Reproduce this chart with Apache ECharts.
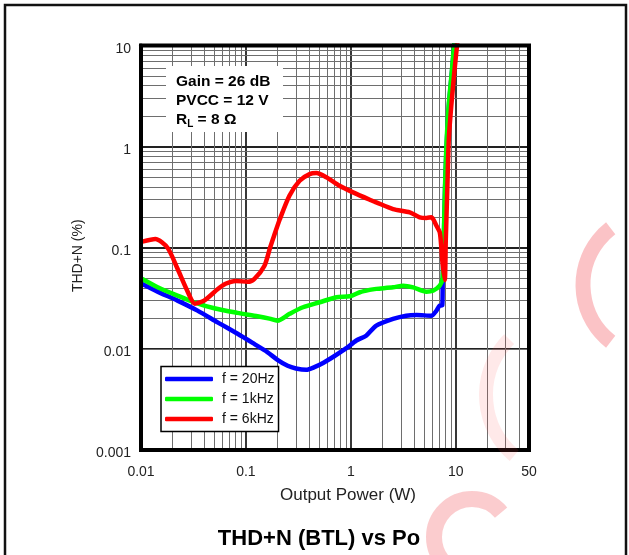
<!DOCTYPE html>
<html>
<head>
<meta charset="utf-8">
<script src="https://cdn.jsdelivr.net/npm/echarts@6/dist/echarts.min.js"></script>
<style>
html,body{margin:0;padding:0;background:#fff;}
#chart{width:629px;height:555px;}
</style>
</head>
<body>
<div id="chart"></div>
<script>
// ---- data ----
const seriesNames = ['f = 20Hz', 'f = 1kHz', 'f = 6kHz'];
const seriesColors = ['#0000FF', '#00FF00', '#FF0000'];

const thd20Hz = [
  [0.0103,0.0438],[0.0144,0.0368],[0.0223,0.030],[0.0346,0.0239],[0.0537,0.0183],
  [0.0834,0.0141],[0.12,0.0112],[0.16,0.0093],[0.2,0.0078],[0.25,0.0068],
  [0.3,0.0064],[0.376,0.0062],[0.45,0.0066],[0.55,0.0073],[0.7,0.0085],
  [0.9,0.0101],[1.13,0.0121],[1.4,0.0135],[1.75,0.017],[2.53,0.0198],
  [3.38,0.0213],[4.24,0.0216],[5.87,0.0213],[6.56,0.0239],[7.05,0.0268],
  [7.45,0.027],[7.52,0.045],[7.62,0.08],[7.76,0.16],[7.93,0.4],[8.19,1.0],
  [8.62,2.57],[9.2,5.4],[9.7,10.5]
];
const thd1kHz = [
  [0.0103,0.049],[0.0144,0.0407],[0.0223,0.0336],[0.0322,0.0289],[0.05,0.0252],
  [0.083,0.0227],[0.129,0.021],[0.168,0.0199],[0.2,0.019],[0.261,0.0222],
  [0.35,0.0258],[0.505,0.0289],[0.73,0.0324],[0.98,0.0331],[1.22,0.0363],
  [1.51,0.0383],[1.75,0.0392],[2.53,0.0406],[3.15,0.0422],[3.93,0.0406],
  [5.26,0.0368],[6.08,0.0376],[7.05,0.0422],[7.48,0.049],[7.6,0.077],
  [7.73,0.15],[7.9,0.38],[8.15,1.0],[8.58,2.57],[9.17,5.4],[9.68,10.5]
];
const thd6kHz = [
  [0.0103,0.115],[0.0137,0.122],[0.0179,0.10],[0.0223,0.062],[0.0278,0.037],
  [0.0326,0.028],[0.040,0.030],[0.054,0.039],[0.064,0.044],[0.080,0.047],
  [0.104,0.046],[0.12,0.049],[0.15,0.066],[0.17,0.10],[0.185,0.13],
  [0.21,0.19],[0.26,0.327],[0.325,0.46],[0.405,0.535],[0.47,0.547],
  [0.585,0.497],[0.78,0.41],[1.05,0.353],[1.5,0.30],[1.75,0.281],
  [2.53,0.241],[3.65,0.224],[4.54,0.20],[5.26,0.197],[5.87,0.2],
  [6.56,0.165],[7.05,0.142],[7.3,0.10],[7.5,0.07],[7.87,0.048],
  [8.05,0.12],[8.32,0.38],[8.6,1.19],[9.08,2.53],[9.7,5.4],[10.35,10.5]
];
const xMin = 0.01, xMax = 50;
const yMin = 0.001, yMax = 10;
const xDecades = [0.01, 0.1, 1, 10];
const yDecades = [0.001, 0.01, 0.1, 1];
const minorSteps = [2,3,4,5,6,7,8,9];
const annotationLines = ['Gain = 26 dB', 'PVCC = 12 V'];

// ---- build ----
const xMinor = [];
xDecades.forEach(d => minorSteps.forEach(m => { const v = d*m; if (v < xMax) xMinor.push(v); }));
const yMinor = [];
yDecades.forEach(d => minorSteps.forEach(m => { const v = d*m; if (v < yMax) yMinor.push(v); }));

const FONT = 'Liberation Sans, Arial, sans-serif';
const fmt = v => String(parseFloat(Number(v).toPrecision(2)));
const deg = a => a * Math.PI / 180;

const G = {left:141, top:45.5, width:388, height:404.5};

const chart = echarts.init(document.getElementById('chart'), null, {renderer:'canvas'});
const dataSets = [thd20Hz, thd1kHz, thd6kHz];

const series = [{
  type:'line', name:'grid', data:[], silent:true, z:1,
  showSymbol:false, lineStyle:{opacity:0},
  markLine:{
    z:1, silent:true, symbol:['none','none'], animation:false,
    label:{show:false},
    lineStyle:{color:'#6e6e6e', width:1, type:'solid'},
    emphasis:{disabled:true},
    data:[...xMinor.map(v=>({xAxis:v})), ...yMinor.map(v=>({yAxis:v}))]
  }
}];
dataSets.forEach((d,i)=>{
  series.push({
    type:'line', name:seriesNames[i], data:d, z:3+i,
    showSymbol:false, smooth:0.25, clip:true,
    color:seriesColors[i],
    lineStyle:{color:seriesColors[i], width:4.5, cap:'round', join:'round'},
    animation:false
  });
});

chart.setOption({
  animation:false,
  textStyle:{fontFamily:FONT},
  title:{
    text:'THD+N (BTL) vs Po', left:314, textAlign:'center', top:523,
    textStyle:{fontSize:22, fontWeight:'bold', color:'#000', fontFamily:FONT}
  },
  grid:{left:G.left, top:G.top, width:G.width, height:G.height, containLabel:false},
  xAxis:{
    type:'log', logBase:10, min:xMin, max:xMax,
    name:'Output Power (W)', nameLocation:'middle', nameGap:37,
    nameTextStyle:{fontSize:17, color:'#222', fontFamily:FONT, padding:[0,0,0,26]},
    axisLine:{show:true, lineStyle:{color:'#000', width:4}},
    axisTick:{show:false},
    axisLabel:{fontSize:14, color:'#222', margin:15, formatter:fmt, showMinLabel:true, showMaxLabel:true},
    splitLine:{show:true, lineStyle:{color:'#222', width:1.8}},
    minorTick:{show:false}, minorSplitLine:{show:false}
  },
  yAxis:{
    type:'log', logBase:10, min:yMin, max:yMax,
    name:'THD+N (%)', nameLocation:'middle', nameGap:49,
    nameTextStyle:{fontSize:14, color:'#222', fontFamily:FONT, padding:[0,16,0,0]},
    axisLine:{show:true, lineStyle:{color:'#000', width:4}},
    axisTick:{show:false},
    axisLabel:{fontSize:14, color:'#222', margin:10, formatter:fmt, showMinLabel:true, showMaxLabel:true,
               verticalAlign:'top', lineHeight:7},
    splitLine:{show:true, lineStyle:{color:'#222', width:1.8}},
    minorTick:{show:false}, minorSplitLine:{show:false}
  },
  legend:{
    data:seriesNames, orient:'vertical', left:161, top:366.5, z:60,
    backgroundColor:'#fff', borderColor:'#000', borderWidth:1.5, borderRadius:0,
    padding:[5,4,5,4], itemGap:5, itemWidth:48, itemHeight:4.5,
    icon:'roundRect', selectedMode:false,
    textStyle:{fontSize:14, color:'#111', padding:[0,0,0,4], lineHeight:15, fontFamily:FONT}
  },
  graphic:[
    {type:'rect', z:100, silent:true,
     shape:{x:G.left, y:G.top, width:G.width, height:G.height},
     style:{fill:null, stroke:'#000', lineWidth:4}},
    {type:'rect', z:50, silent:true, shape:{x:166, y:66, width:117, height:66}, style:{fill:'#fff'}},
    {type:'text', z:51, silent:true, style:{x:176, y:82, text:annotationLines[0], fontSize:15.5, fontWeight:'bold', fill:'#000', fontFamily:FONT, verticalAlign:'middle'}},
    {type:'text', z:51, silent:true, style:{x:176, y:101, text:annotationLines[1], fontSize:15.5, fontWeight:'bold', fill:'#000', fontFamily:FONT, verticalAlign:'middle'}},
    {type:'text', z:51, silent:true, style:{x:176, y:120, text:'{a|R}{s|L}{a| = 8 Ω}', verticalAlign:'middle',
      rich:{a:{fontSize:15.5, fontWeight:'bold', fill:'#000', fontFamily:FONT, lineHeight:18},
            s:{fontSize:10, fontWeight:'bold', fill:'#000', fontFamily:FONT, lineHeight:10, verticalAlign:'bottom'}}}},
    {type:'rect', z:0, silent:true, shape:{x:5, y:5, width:621, height:560}, style:{fill:null, stroke:'#111', lineWidth:2.5}},
    // faint watermark arcs
    {type:'arc', z:120, silent:true, shape:{cx:565, cy:395, r:79, startAngle:deg(130), endAngle:deg(225), clockwise:true},
     style:{fill:null, stroke:'rgba(255,70,70,0.12)', lineWidth:14}},
    {type:'arc', z:120, silent:true, shape:{cx:655, cy:285, r:72, startAngle:deg(128), endAngle:deg(232), clockwise:true},
     style:{fill:null, stroke:'rgba(240,40,50,0.28)', lineWidth:15}},
    {type:'arc', z:120, silent:true, shape:{cx:472, cy:537, r:38, startAngle:deg(90), endAngle:deg(320), clockwise:true},
     style:{fill:null, stroke:'rgba(240,40,50,0.24)', lineWidth:16}}
  ],
  series:series
});
</script>
</body>
</html>
